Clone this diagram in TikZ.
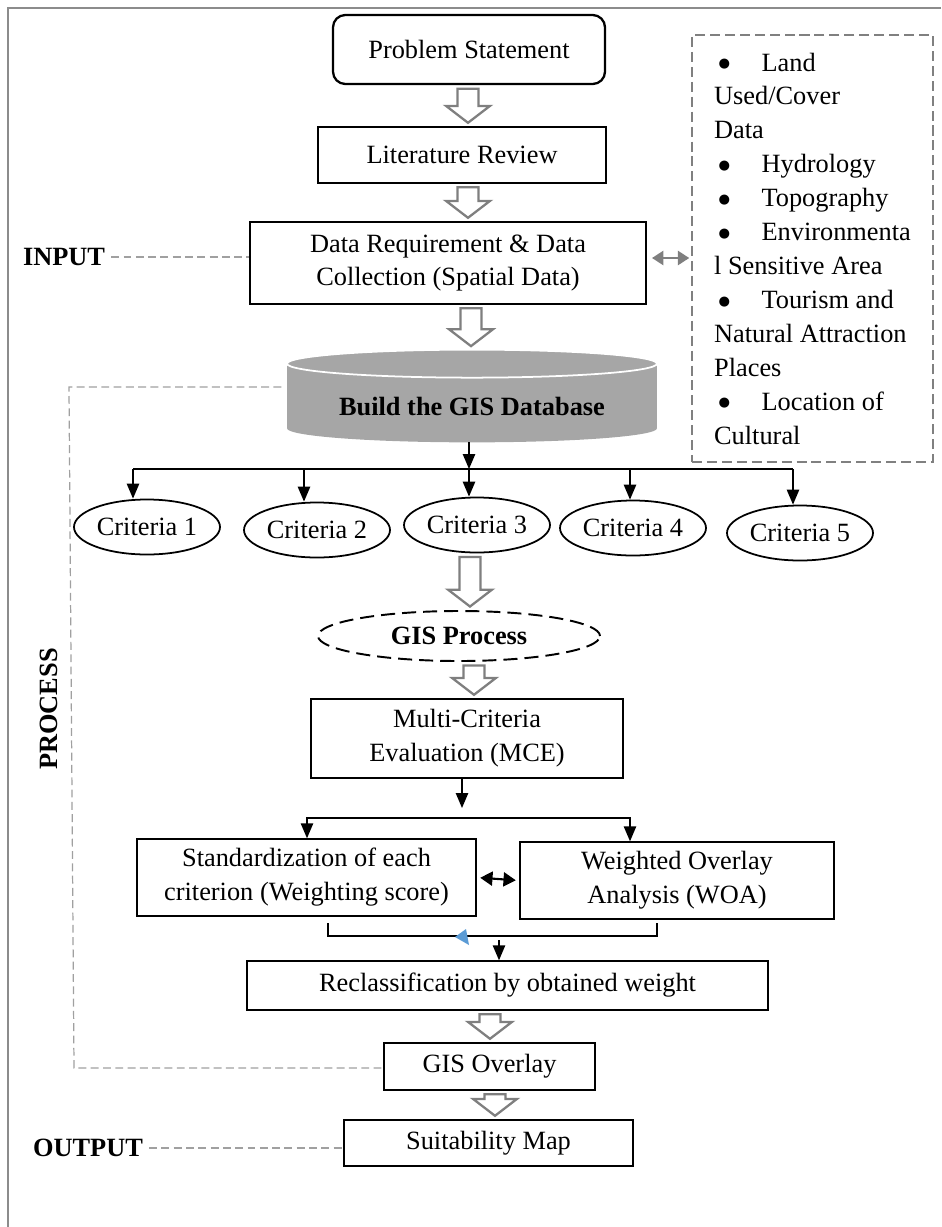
\documentclass[tikz,border=0pt]{standalone}
\usepackage{fontspec}
\setmainfont{Liberation Serif}
\newfontfamily\dotfont{DejaVu Sans}
\usetikzlibrary{arrows.meta, shapes.geometric, calc}

\definecolor{framegray}{HTML}{8C8C8C}
\definecolor{arrowgray}{HTML}{7F7F7F}
\definecolor{dbgray}{HTML}{A6A6A6}
\definecolor{lightdash}{HTML}{A0A0A0}
\definecolor{listdash}{HTML}{808080}
\definecolor{markblue}{HTML}{5B9BD5}

\newcommand{\pxu}{0.02cm}
\newcommand{\itm}{\makebox[27pt][l]{\hspace{2.5pt}\raisebox{1.8pt}{\dotfont\fontsize{7.5}{7.5}\selectfont ●}}}
% hollow block arrow: #1 = x, #2 = upper node, #3 = lower node
\newcommand{\hollowarrow}[3]{%
  \path[hollow] let \p1 = (#1,0), \p2 = (#2.south), \p3 = (#3.north) in
    (\x1-6pt,\y2-2pt) -- (\x1+6pt,\y2-2pt) -- (\x1+6pt,\y3+11.6pt)
    -- (\x1+12.5pt,\y3+11.6pt) -- (\x1,\y3+2pt) -- (\x1-12.5pt,\y3+11.6pt)
    -- (\x1-6pt,\y3+11.6pt) -- cycle;}

\begin{document}
\begin{tikzpicture}[
            x = 0.02cm, y = -0.02cm, % one unit = one pixel of the sketch
            > = {Triangle[length=8.5pt, width=7pt]}, % arrow head style
            font = \fontsize{15}{19.3}\selectfont,
            line join = miter
        ]

        \tikzstyle{box}=[draw, line width=0.8pt, rectangle, align=center, inner sep=0pt]
        \tikzstyle{crit}=[draw, line width=1pt, ellipse, inner sep=0pt,
            minimum width=146*\pxu, minimum height=55*\pxu]
        \tikzstyle{hollow}=[draw=arrowgray, fill=white, line width=1.3pt]
        \tikzstyle{link}=[->, line width=0.85pt]
        \tikzstyle{guide}=[draw=lightdash, dash pattern=on 4.5pt off 2.5pt, line width=0.7pt]
        \tikzstyle{tag}=[font=\fontsize{15}{19.3}\selectfont\bfseries]

        \useasboundingbox (0,0) rectangle (941,1227);
        \draw[framegray, line width=1.1pt] (941,8) -- (8,8) -- (8,1227);

        % main column
        \node[box, rounded corners=7pt, line width=1.3pt, minimum width=272*\pxu,
            minimum height=69*\pxu] (problem) at (469,49.5) {Problem Statement};
        \node[box, minimum width=288*\pxu, minimum height=56*\pxu] (review) at (462,155) {Literature Review};
        \node[box, minimum width=396*\pxu, minimum height=82*\pxu] (data) at (448,263)
            {Data Requirement \& Data\\Collection (Spatial Data)};

        \node[minimum width=370*\pxu, minimum height=92*\pxu, inner sep=0pt] (db) at (472,396) {};
        \fill[dbgray] ([yshift=-0.28cm]db.north west) rectangle ([yshift=0.28cm]db.south east);
        \fill[dbgray] ([yshift=0.28cm]db.south) ellipse [x radius=3.7cm, y radius=0.28cm];
        \filldraw[fill=dbgray, draw=white, line width=1pt] ([yshift=-0.28cm]db.north)
            ellipse [x radius=3.7cm, y radius=0.28cm];
        \node[tag] (dbtext) at (472,407) {Build the GIS Database};

        \node[draw=listdash, dash pattern=on 5.7pt off 2.8pt, line width=1.1pt, align=left,
            inner sep=0pt, minimum width=241*\pxu, minimum height=427*\pxu] (sources) at (812.5,248.5)
            {\itm Land\\Used/Cover\\Data\\\itm Hydrology\\\itm Topography\\\itm Environmenta\\
             l Sensitive Area\\\itm Tourism and\\Natural Attraction\\Places\\\itm Location of\\Cultural};

        \foreach \i/\x/\y in {1/147/527, 2/317/530, 3/477/525, 4/633/528, 5/800/533}
            \node[crit] (c\i) at (\x,\y) {Criteria \i};

        \node[draw, ellipse, tag, line width=1.1pt, dash pattern=on 8pt off 4pt, inner sep=0pt,
            minimum width=282*\pxu, minimum height=50*\pxu] (gisproc) at (459,636) {GIS Process};

        \node[box, minimum width=312*\pxu, minimum height=79*\pxu] (mce) at (467,738.5)
            {Multi-Criteria\\Evaluation (MCE)};
        \node[box, minimum width=339*\pxu, minimum height=77*\pxu] (std) at (306.5,877.5)
            {Standardization of each\\criterion (Weighting score)};
        \node[box, minimum width=314*\pxu, minimum height=77*\pxu] (woa) at (677,880.5)
            {Weighted Overlay\\Analysis (WOA)};
        \node[box, minimum width=521*\pxu, minimum height=49*\pxu] (reclass) at (507.5,985.5)
            {Reclassification by obtained weight};
        \node[box, minimum width=211*\pxu, minimum height=47*\pxu] (overlay) at (489.5,1066.5) {GIS Overlay};
        \node[box, minimum width=289*\pxu, minimum height=46*\pxu] (suit) at (488.5,1143) {Suitability Map};

        % side labels
        \node[tag] (input) at (64,257) {INPUT};
        \node[tag] (output) at (88,1148) {OUTPUT};
        \node[tag, rotate=90] (process) at (49,709) {PROCESS};

        % block arrows
        \hollowarrow{468}{problem}{review}
        \hollowarrow{468}{review}{data}
        \hollowarrow{471}{data}{db}
        \hollowarrow{470}{c3}{gisproc}
        \hollowarrow{474}{gisproc}{mce}
        \hollowarrow{490}{reclass}{overlay}
        \hollowarrow{495}{overlay}{suit}

        % database to criteria
        \foreach \i/\x in {1/133, 2/304, 3/469, 4/630, 5/793}
            \coordinate (d\i) at (\x,469);
        \draw[line width=0.85pt] (d1) -- (d5);
        \draw[link] (db.south -| d3) -- (d3);
        \foreach \i in {1,...,5}
            \draw[link] (d\i) -- (d\i |- c\i.north);

        % MCE split
        \coordinate (m0) at (462,808);
        \coordinate (bl) at (307,818);
        \coordinate (br) at (630,818);
        \draw[link] (mce.south -| m0) -- (m0);
        \draw[link, <->] (std.north -| bl) -- (bl) -- (br) -- (woa.north -| br);
        \draw[{Triangle[length=7pt, width=8pt]}-{Triangle[length=7pt, width=8pt]}, line width=1.2pt,
            shorten <=2pt, shorten >=2pt] (std.east) -- (woa.west);

        % join to reclassification
        \coordinate (jl) at (328,936);
        \coordinate (jr) at (657,936);
        \draw[line width=0.7pt] (328,923) -- (jl) -- (jr) -- (657,923);
        \fill[markblue] (455,937) -- (466,929) -- (469,945) -- cycle;
        \coordinate (r0) at (499,940);
        \draw[link] (r0) -- (r0 |- reclass.north);

        % data sources link
        \draw[{Triangle[length=6.5pt, width=8pt]}-{Triangle[length=6.5pt, width=8pt]}, arrowgray,
            line width=1.4pt, shorten <=3pt, shorten >=1pt]
            ([yshift=0.1cm]data.east) -- ([yshift=0.1cm]data.east -| sources.west);

        % dashed guides
        \coordinate (gtop) at (69,387);
        \coordinate (gbot) at (74,1068);
        \draw[guide] (input.east) -- (input.east -| data.west);
        \draw[guide] (output.east) -- (output.east -| suit.west);
        \draw[guide, shorten <=3pt] (gtop -| db.west) -- (gtop) -- (gbot) -- (gbot -| overlay.west);
    \end{tikzpicture}
\end{document}
